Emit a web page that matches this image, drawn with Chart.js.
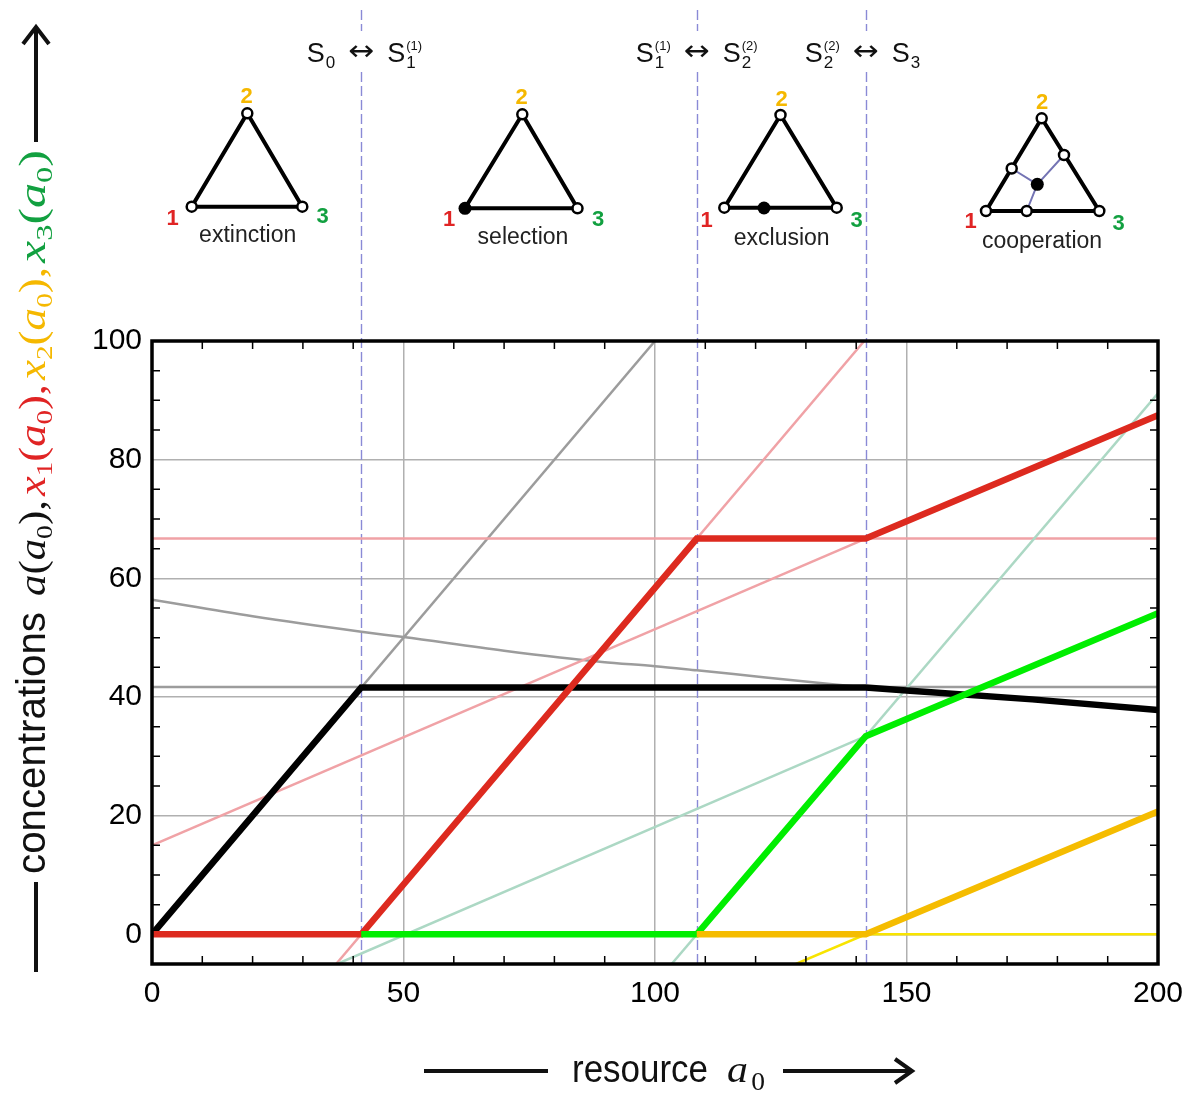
<!DOCTYPE html>
<html><head><meta charset="utf-8">
<script src="https://cdn.jsdelivr.net/npm/chart.js@4.4.1/dist/chart.umd.min.js"></script>
<style>html,body{margin:0;padding:0;background:#fff;}#wrap{width:1190px;height:1095px;}</style>
</head><body><div id="wrap"><canvas id="c" width="1190" height="1095"></canvas></div>
<script>
// ---- tick labels ----
const xTicks = [0, 50, 100, 150, 200];
const yTicks = [0, 20, 40, 60, 80, 100];
const xMinorTicks = [10, 20, 30, 40, 60, 70, 80, 90, 110, 120, 130, 140, 160, 170, 180, 190];
const yMinorTicks = [5, 10, 15, 25, 30, 35, 45, 50, 55, 65, 70, 75, 85, 90, 95];
// ---- regime transitions (resource a0) ----
const transitions = [41.6, 108.3, 141.9];
const regimeNames = ['extinction', 'selection', 'exclusion', 'cooperation'];

// ---- thick curves ----
const aX  = [0, 41.6, 141.9, 150, 175, 200];
const aY  = [0, 41.6, 41.6, 41.1, 39.6, 37.8];
const x1X = [0, 41.6, 108.3, 141.9, 200];
const x1Y = [0, 0, 66.7, 66.7, 87.5];
const x3X = [41.6, 108.3, 141.9, 200];
const x3Y = [0, 0, 33.4, 54.1];
const x2X = [108.3, 141.9, 200];
const x2Y = [0, 0, 20.7];

// ---- thin (other branch) curves ----
const grayDiagX = [0, 100];
const grayDiagY = [0, 100];
const grayCurveX = [0, 20, 41.6, 50, 70, 89.5, 100, 108.3, 122, 141.9];
const grayCurveY = [56.4, 53.6, 51.0, 50.1, 47.8, 45.9, 45.2, 44.5, 43.3, 41.6];
const grayFlatX = [0, 200];
const grayFlatY = [41.7, 41.7];
const pinkFlatX = [0, 200];
const pinkFlatY = [66.7, 66.7];
const pinkShallowX = [0, 141.9];
const pinkShallowY = [15.0, 66.7];
const pinkSteepX = [36.6, 141.6];
const pinkSteepY = [-5, 100];
const tealShallowX = [36.8, 141.9];
const tealShallowY = [-5, 33.4];
const tealSteepX = [103.3, 200];
const tealSteepY = [-5, 91.2];
const yellowX = [128, 141.9, 200];
const yellowY = [-5, 0, 0];

function pts(xs, ys) { return xs.map((x, i) => ({ x: x, y: ys[i] })); }
function ds(xs, ys, color, w, extra) {
  return Object.assign({ data: pts(xs, ys), borderColor: color, backgroundColor: color, borderWidth: w,
    showLine: true, pointRadius: 0, pointHoverRadius: 0, fill: false, tension: 0, borderCapStyle: 'butt' }, extra || {});
}

const C_RED = '#dd2a1f', C_GREEN = '#00ee00', C_ORANGE = '#f5bc00';
const T_RED = '#e02424', T_ORANGE = '#f5b800', T_GREEN = '#12a040';

const datasets = [
  ds(x2X, x2Y, C_ORANGE, 6.5),
  ds(x3X, x3Y, C_GREEN, 6.5),
  ds(x1X, x1Y, C_RED, 6.5),
  ds(aX, aY, '#000000', 6.5),
  ds(yellowX, yellowY, '#f8e400', 2.5),
  ds(tealSteepX, tealSteepY, '#acd8c4', 2.5),
  ds(tealShallowX, tealShallowY, '#acd8c4', 2.5),
  ds(pinkSteepX, pinkSteepY, '#f0a2a6', 2.5),
  ds(pinkShallowX, pinkShallowY, '#f0a2a6', 2.5),
  ds(pinkFlatX, pinkFlatY, '#f0a2a6', 2.5),
  ds(grayFlatX, grayFlatY, '#9c9c9c', 2.5),
  ds(grayCurveX, grayCurveY, '#9c9c9c', 2.5, { cubicInterpolationMode: 'monotone' }),
  ds(grayDiagX, grayDiagY, '#9c9c9c', 2.5)
];

// ---- helpers for annotation drawing ----
function fitRun(ctx, runs, x, y, targetW) {
  let total = 0;
  runs.forEach(r => { ctx.font = r.font; r.w = ctx.measureText(r.t).width + (r.gap || 0); total += r.w; });
  const s = targetW ? targetW / total : 1;
  ctx.save();
  ctx.translate(x, y);
  ctx.scale(s, 1);
  let u = 0;
  runs.forEach(r => {
    ctx.font = r.font; ctx.fillStyle = r.color || '#111';
    ctx.fillText(r.t, u, r.dy || 0);
    u += r.w;
  });
  ctx.restore();
}

function mathGroup(sym, sub, color, comma) {
  const f = 'italic 37px "Liberation Serif"', fu = '37px "Liberation Serif"', fs = '24px "Liberation Serif"';
  const r = [{ t: sym, font: f, color: color }];
  if (sub) r.push({ t: sub, font: fs, color: color, dy: 7 });
  r.push({ t: '(', font: fu, color: color }, { t: 'a', font: f, color: color },
         { t: '0', font: fs, color: color, dy: 7 }, { t: ')', font: fu, color: color });
  if (comma) r.push({ t: ',', font: fu, color: color });
  return r;
}

function drawTerm(ctx, x, base, sub, sup) {
  ctx.font = '27px "Liberation Sans"';
  ctx.fillText('S', x, base);
  const sw = ctx.measureText('S').width;
  ctx.font = '17px "Liberation Sans"';
  ctx.fillText(sub, x + sw + 1, base + 6);
  if (sup) {
    ctx.font = '13px "Liberation Sans"';
    ctx.fillText(sup, x + sw + 1, base - 12);
  }
}
function termWidth(ctx, sub, sup) {
  ctx.font = '27px "Liberation Sans"';
  const sw = ctx.measureText('S').width;
  ctx.font = '17px "Liberation Sans"';
  const w1 = ctx.measureText(sub).width;
  let w2 = 0;
  if (sup) { ctx.font = '13px "Liberation Sans"'; w2 = ctx.measureText(sup).width; }
  return sw + 1 + Math.max(w1, w2);
}
const transitionTerms = [
  [['0', ''], ['1', '(1)']],
  [['1', '(1)'], ['2', '(2)']],
  [['2', '(2)'], ['3', '']]
];

const triangles = [
  { top: [247.3, 113.3], left: [191.7, 206.7], right: [302.3, 206.7], l2: [246.7, 95], l1: [172.7, 216.7], l3: [322.7, 215], cap: [247.7, 234.3],
    open: ['top', 'left', 'right'], filled: [], extraOpen: [], inner: null },
  { top: [522.3, 114.3], left: [465, 208.3], right: [577.5, 208.3], l2: [521.5, 96], l1: [449, 218], l3: [598, 218], cap: [523, 236],
    open: ['top', 'right'], filled: ['left'], extraOpen: [], inner: null },
  { top: [780.5, 115], left: [724.3, 207.7], right: [836.7, 207.7], l2: [781.7, 98.3], l1: [706.7, 219.3], l3: [856.7, 219.3], cap: [781.7, 236.7],
    open: ['top', 'left', 'right'], filled: [], extraFilled: [[764, 208]], extraOpen: [], inner: null },
  { top: [1041.7, 118.3], left: [986, 211], right: [1099.3, 211], l2: [1042, 100.7], l1: [970.7, 220], l3: [1118.7, 221.7], cap: [1042, 241.7],
    open: ['top', 'left', 'right'], filled: [], extraOpen: [[1011.7, 168.5], [1064, 155], [1026.7, 211]], extraFilled: [[1037.3, 184.3]], inner: [1037.3, 184.3] }
];

function circle(ctx, p, r, filled) {
  ctx.beginPath(); ctx.arc(p[0], p[1], r, 0, Math.PI * 2);
  if (filled) { ctx.fillStyle = '#000'; ctx.fill(); }
  else { ctx.fillStyle = '#fff'; ctx.fill(); ctx.lineWidth = 2.5; ctx.strokeStyle = '#000'; ctx.stroke(); }
}

function arrowHead(ctx, tip, dir) {
  ctx.beginPath();
  if (dir === 'up') { ctx.moveTo(tip[0] - 13, tip[1] + 17); ctx.lineTo(tip[0], tip[1]); ctx.lineTo(tip[0] + 13, tip[1] + 17); }
  else { ctx.moveTo(tip[0] - 17, tip[1] - 12); ctx.lineTo(tip[0], tip[1]); ctx.lineTo(tip[0] - 17, tip[1] + 12); }
  ctx.stroke();
}

const annot = {
  id: 'annot',
  beforeDatasetsDraw(chart) {
    const { ctx, chartArea: a, scales: { x } } = chart;
    ctx.save();
    ctx.strokeStyle = '#8a8ad6'; ctx.lineWidth = 1.4; ctx.setLineDash([10, 4]);
    transitions.forEach(v => {
      const px = Math.round(x.getPixelForValue(v)) + 0.5;
      ctx.beginPath(); ctx.moveTo(px, 10); ctx.lineTo(px, 31); ctx.moveTo(px, 72); ctx.lineTo(px, a.bottom); ctx.stroke();
    });
    ctx.restore();
  },
  afterDatasetsDraw(chart) {
    const { ctx, chartArea: a, scales: { x, y } } = chart;
    ctx.save();
    ctx.strokeStyle = '#000'; ctx.lineWidth = 1.5;
    ctx.beginPath();
    xMinorTicks.forEach(v => {
      const px = x.getPixelForValue(v);
      ctx.moveTo(px, a.bottom); ctx.lineTo(px, a.bottom - 8);
      ctx.moveTo(px, a.top); ctx.lineTo(px, a.top + 8);
    });
    yMinorTicks.forEach(v => {
      const py = y.getPixelForValue(v);
      ctx.moveTo(a.left, py); ctx.lineTo(a.left + 8, py);
      ctx.moveTo(a.right, py); ctx.lineTo(a.right - 8, py);
    });
    ctx.stroke();
    ctx.lineWidth = 3.5;
    ctx.strokeRect(a.left, a.top, a.right - a.left, a.bottom - a.top);
    ctx.restore();
  },
  afterDraw(chart) {
    const { ctx, scales: { x } } = chart;
    ctx.save();
    ctx.textAlign = 'left'; ctx.textBaseline = 'alphabetic';
    transitions.forEach((v, i) => {
      const cx = x.getPixelForValue(v);
      const [L, R] = transitionTerms[i];
      const aw = 26;
      fitRun(ctx, [{ t: '\u2194', font: '28px "DejaVu Sans"', color: '#111' }], cx - aw / 2, 60, aw);
      ctx.fillStyle = '#111';
      const lw = termWidth(ctx, L[0], L[1]);
      drawTerm(ctx, cx - aw / 2 - 13 - lw, 62, L[0], L[1]);
      drawTerm(ctx, cx + aw / 2 + 13, 62, R[0], R[1]);
    });
    triangles.forEach((t, i) => {
      ctx.lineWidth = 4; ctx.strokeStyle = '#000'; ctx.lineJoin = 'miter';
      ctx.beginPath(); ctx.moveTo(t.top[0], t.top[1]); ctx.lineTo(t.right[0], t.right[1]); ctx.lineTo(t.left[0], t.left[1]); ctx.closePath(); ctx.stroke();
      if (t.inner) {
        ctx.lineWidth = 2; ctx.strokeStyle = '#7474b4';
        ctx.beginPath();
        t.extraOpen.forEach(p => { ctx.moveTo(t.inner[0], t.inner[1]); ctx.lineTo(p[0], p[1]); });
        ctx.stroke();
      }
      t.open.forEach(k => circle(ctx, t[k], 5, false));
      t.filled.forEach(k => circle(ctx, t[k], 6.5, true));
      (t.extraOpen || []).forEach(p => circle(ctx, p, 5, false));
      (t.extraFilled || []).forEach(p => circle(ctx, p, 6.5, true));
      ctx.textAlign = 'center';
      ctx.font = 'bold 22px "Liberation Sans"';
      ctx.fillStyle = T_ORANGE; ctx.fillText('2', t.l2[0], t.l2[1] + 8);
      ctx.fillStyle = T_RED; ctx.fillText('1', t.l1[0], t.l1[1] + 8);
      ctx.fillStyle = T_GREEN; ctx.fillText('3', t.l3[0], t.l3[1] + 8);
      ctx.font = '23px "Liberation Sans"'; ctx.fillStyle = '#222';
      ctx.fillText(regimeNames[i], t.cap[0], t.cap[1] + (i === 3 ? 6 : 8));
      ctx.textAlign = 'left';
    });
    ctx.strokeStyle = '#111'; ctx.lineWidth = 4; ctx.lineCap = 'butt'; ctx.lineJoin = 'miter';
    ctx.beginPath(); ctx.moveTo(424, 1071); ctx.lineTo(548, 1071); ctx.moveTo(783, 1071); ctx.lineTo(910, 1071); ctx.stroke();
    arrowHead(ctx, [912, 1071], 'right');
    fitRun(ctx, [{ t: 'resource', font: '38px "Liberation Sans"', color: '#111' }], 572, 1082, 136);
    fitRun(ctx, [{ t: 'a', font: 'italic 38px "Liberation Serif"', color: '#111', gap: 3 }, { t: '0', font: '25px "Liberation Serif"', color: '#111', dy: 8 }], 727, 1082, 38);
    ctx.beginPath(); ctx.moveTo(36, 972); ctx.lineTo(36, 882); ctx.moveTo(36, 142); ctx.lineTo(36, 29); ctx.stroke();
    arrowHead(ctx, [36, 27], 'up');
    ctx.save();
    ctx.translate(45, 0);
    ctx.rotate(-Math.PI / 2);
    fitRun(ctx, [{ t: 'concentrations', font: '40px "Liberation Sans"', color: '#111' }], -874, 0, 262);
    fitRun(ctx, mathGroup('a', '', '#111', true), -596, 0, 96);
    fitRun(ctx, mathGroup('x', '1', T_RED, true), -496, 0, 112);
    fitRun(ctx, mathGroup('x', '2', T_ORANGE, true), -380, 0, 113);
    fitRun(ctx, mathGroup('x', '3', T_GREEN, false), -263, 0, 113);
    ctx.restore();
    ctx.restore();
  }
};

const tickFont = { family: '"Liberation Sans", Arial, sans-serif', size: 30 };
new Chart(document.getElementById('c'), {
  type: 'scatter',
  data: { datasets: datasets },
  options: {
    responsive: false, animation: false, devicePixelRatio: 1,
    layout: { padding: { top: 341, right: 32, left: 0, bottom: 0 } },
    plugins: { legend: { display: false }, tooltip: { enabled: false }, title: { display: false } },
    events: [],
    scales: {
      x: {
        type: 'linear', min: 0, max: 200,
        afterBuildTicks: s => { s.ticks = xTicks.map(v => ({ value: v })); },
        afterFit: s => { s.height = 131; s.paddingLeft = 0; s.paddingRight = 0; },
        grid: { color: '#b0b0b0', lineWidth: 1.5, drawTicks: false },
        border: { display: false },
        ticks: { font: tickFont, color: '#000', padding: 12, maxRotation: 0, autoSkip: false }
      },
      y: {
        type: 'linear', min: -5, max: 100,
        afterBuildTicks: s => { s.ticks = yTicks.map(v => ({ value: v })); },
        afterFit: s => { s.width = 152; s.paddingTop = 0; s.paddingBottom = 0; },
        grid: { color: '#b0b0b0', lineWidth: 1.5, drawTicks: false },
        border: { display: false },
        ticks: { font: tickFont, color: '#000', padding: 10, autoSkip: false }
      }
    }
  },
  plugins: [annot]
});
</script>
</body></html>
